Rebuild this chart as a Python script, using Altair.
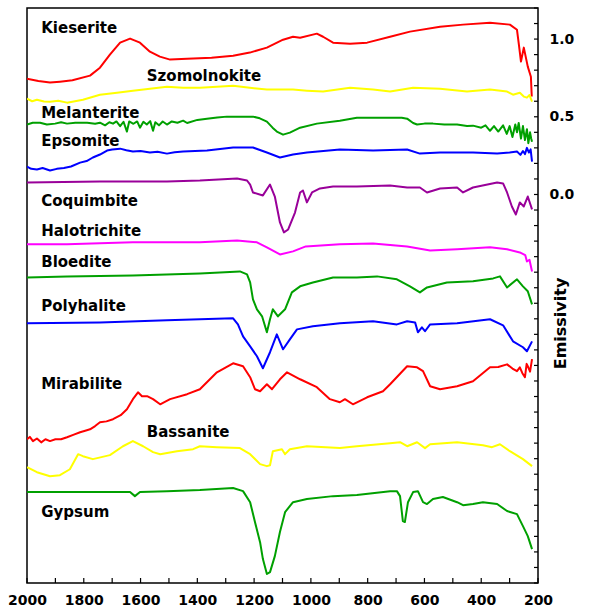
import altair as alt
import pandas as pd

# ---- spectra: wavenumber (cm-1) and plotted emissivity (offset) ----
KIE_WN = [2000, 1960, 1919, 1884, 1840, 1778, 1743, 1708, 1672, 1637, 1602, 1567, 1532, 1496, 1436, 1350, 1274, 1215, 1155, 1098, 1063, 1038, 979, 957, 922, 862, 802, 721, 651, 545, 464, 369, 299, 274, 267, 260, 250, 236, 225, 222]
KIE_V = [0.745, 0.73, 0.72, 0.726, 0.735, 0.765, 0.816, 0.900, 0.977, 1.003, 0.977, 0.919, 0.887, 0.868, 0.874, 0.880, 0.893, 0.913, 0.945, 0.996, 1.015, 1.009, 1.035, 1.015, 0.977, 0.970, 0.977, 1.015, 1.048, 1.080, 1.093, 1.105, 1.093, 1.06, 0.96, 0.855, 0.945, 0.823, 0.758, 0.63]

SZO_WN = [2000, 1982, 1965, 1940, 1919, 1890, 1859, 1803, 1743, 1683, 1627, 1567, 1507, 1450, 1391, 1331, 1274, 1215, 1155, 1063, 1014, 957, 862, 781, 721, 640, 545, 450, 369, 309, 288, 264, 250, 239, 230, 221]
SZO_V = [0.617, 0.60, 0.610, 0.598, 0.597, 0.603, 0.591, 0.610, 0.642, 0.655, 0.668, 0.681, 0.694, 0.687, 0.687, 0.694, 0.700, 0.687, 0.675, 0.675, 0.668, 0.662, 0.687, 0.675, 0.662, 0.687, 0.681, 0.662, 0.675, 0.662, 0.642, 0.655, 0.63, 0.623, 0.64, 0.597]

MEL_WN = [2000, 1980, 1954, 1930, 1901, 1880, 1859, 1830, 1788, 1760, 1743, 1725, 1710, 1697, 1685, 1672, 1660, 1648, 1640, 1625, 1612, 1602, 1590, 1578, 1566, 1556, 1548, 1535, 1522, 1507, 1490, 1470, 1450, 1436, 1400, 1366, 1330, 1296, 1250, 1204, 1180, 1155, 1135, 1120, 1098, 1074, 1038, 979, 898, 838, 746, 680, 661, 640, 626, 600, 570, 530, 485, 450, 429, 400, 385, 369, 355, 340, 323, 310, 300, 290, 280, 274, 268, 260, 253, 246, 239, 234, 228, 224, 221]
MEL_V = [0.450, 0.462, 0.462, 0.450, 0.456, 0.465, 0.456, 0.462, 0.462, 0.455, 0.462, 0.445, 0.465, 0.456, 0.47, 0.44, 0.468, 0.405, 0.47, 0.455, 0.47, 0.43, 0.468, 0.45, 0.472, 0.41, 0.465, 0.445, 0.47, 0.45, 0.47, 0.462, 0.475, 0.46, 0.48, 0.488, 0.495, 0.501, 0.501, 0.501, 0.49, 0.469, 0.43, 0.405, 0.385, 0.398, 0.430, 0.456, 0.475, 0.494, 0.494, 0.494, 0.488, 0.46, 0.450, 0.456, 0.456, 0.45, 0.450, 0.44, 0.443, 0.43, 0.445, 0.41, 0.44, 0.405, 0.445, 0.39, 0.44, 0.37, 0.45, 0.40, 0.46, 0.36, 0.44, 0.35, 0.42, 0.33, 0.40, 0.36, 0.34]

EPS_WN = [2000, 1985, 1965, 1945, 1919, 1895, 1870, 1845, 1813, 1790, 1768, 1743, 1718, 1700, 1672, 1650, 1627, 1600, 1567, 1540, 1507, 1480, 1450, 1366, 1274, 1204, 1155, 1109, 1063, 1014, 898, 781, 661, 616, 545, 429, 344, 300, 274, 262, 253, 246, 239, 232, 226, 221]
EPS_V = [0.180, 0.165, 0.161, 0.17, 0.154, 0.165, 0.17, 0.18, 0.205, 0.215, 0.238, 0.257, 0.283, 0.29, 0.295, 0.285, 0.276, 0.28, 0.270, 0.275, 0.263, 0.272, 0.276, 0.283, 0.302, 0.302, 0.270, 0.238, 0.257, 0.270, 0.289, 0.283, 0.289, 0.263, 0.270, 0.270, 0.263, 0.27, 0.276, 0.255, 0.28, 0.26, 0.30, 0.27, 0.29, 0.212]

COQ_WN = [2000, 1743, 1507, 1391, 1260, 1225, 1214, 1204, 1169, 1144, 1127, 1109, 1095, 1080, 1056, 1038, 1028, 1014, 996, 968, 922, 838, 721, 661, 616, 591, 545, 485, 464, 429, 344, 323, 309, 292, 278, 264, 250, 236, 221]
COQ_V = [0.077, 0.084, 0.084, 0.090, 0.103, 0.090, 0.064, 0.013, -0.006, 0.064, -0.013, -0.180, -0.244, -0.225, -0.116, 0.013, 0.026, -0.051, 0.013, 0.039, 0.051, 0.051, 0.058, 0.045, 0.045, 0.013, 0.039, 0.045, 0.013, 0.045, 0.077, 0.071, 0.013, -0.077, -0.129, -0.051, -0.077, -0.013, -0.096]

HAL_WN = [2000, 1859, 1627, 1391, 1260, 1190, 1155, 1109, 1063, 1018, 898, 781, 661, 580, 485, 369, 309, 264, 245, 239, 230, 221]
HAL_V = [-0.321, -0.321, -0.308, -0.308, -0.296, -0.308, -0.340, -0.386, -0.366, -0.334, -0.321, -0.315, -0.334, -0.360, -0.353, -0.340, -0.353, -0.373, -0.39, -0.431, -0.42, -0.495]

BLO_WN = [2000, 1859, 1627, 1391, 1250, 1225, 1214, 1204, 1190, 1172, 1155, 1144, 1134, 1116, 1091, 1067, 1038, 993, 922, 838, 767, 697, 651, 616, 591, 521, 429, 358, 334, 309, 274, 253, 236, 221]
BLO_V = [-0.534, -0.527, -0.521, -0.508, -0.495, -0.514, -0.566, -0.675, -0.739, -0.784, -0.887, -0.803, -0.739, -0.784, -0.739, -0.630, -0.591, -0.566, -0.534, -0.534, -0.527, -0.546, -0.591, -0.630, -0.598, -0.566, -0.559, -0.540, -0.527, -0.598, -0.546, -0.591, -0.623, -0.707]

POL_WN = [2000, 1743, 1507, 1274, 1257, 1239, 1214, 1190, 1169, 1144, 1120, 1098, 1074, 1049, 993, 898, 781, 697, 661, 633, 623, 609, 598, 580, 485, 369, 323, 288, 253, 239, 221]
POL_V = [-0.829, -0.823, -0.810, -0.797, -0.836, -0.913, -0.977, -1.041, -1.118, -1.015, -0.900, -0.996, -0.932, -0.868, -0.848, -0.829, -0.816, -0.836, -0.816, -0.823, -0.887, -0.855, -0.880, -0.836, -0.829, -0.803, -0.842, -0.945, -0.983, -1.009, -0.945]

MIR_WN = [2000, 1990, 1979, 1965, 1950, 1935, 1919, 1900, 1880, 1859, 1835, 1813, 1795, 1778, 1760, 1743, 1720, 1697, 1670, 1648, 1627, 1609, 1595, 1577, 1556, 1531, 1496, 1436, 1391, 1331, 1274, 1239, 1214, 1197, 1179, 1155, 1137, 1109, 1084, 1038, 979, 933, 898, 880, 852, 802, 746, 721, 661, 626, 605, 580, 545, 485, 429, 369, 340, 309, 290, 274, 264, 255, 246, 240, 236, 228, 221]
MIR_V = [-1.575, -1.56, -1.587, -1.57, -1.595, -1.575, -1.587, -1.575, -1.575, -1.562, -1.545, -1.530, -1.52, -1.511, -1.49, -1.466, -1.46, -1.446, -1.42, -1.382, -1.317, -1.273, -1.298, -1.298, -1.317, -1.350, -1.317, -1.285, -1.253, -1.144, -1.086, -1.105, -1.176, -1.253, -1.266, -1.221, -1.253, -1.189, -1.144, -1.189, -1.240, -1.317, -1.337, -1.317, -1.350, -1.305, -1.266, -1.221, -1.105, -1.112, -1.137, -1.234, -1.253, -1.234, -1.202, -1.112, -1.11, -1.093, -1.12, -1.137, -1.112, -1.15, -1.176, -1.09, -1.105, -1.14, -1.060]

BAS_WN = [2000, 1965, 1919, 1884, 1849, 1820, 1803, 1768, 1708, 1662, 1627, 1591, 1556, 1531, 1472, 1415, 1391, 1331, 1250, 1214, 1179, 1155, 1144, 1134, 1102, 1091, 1074, 1014, 898, 838, 721, 686, 661, 626, 598, 580, 485, 394, 362, 334, 299, 253, 221]
BAS_V = [-1.755, -1.787, -1.813, -1.806, -1.768, -1.671, -1.684, -1.703, -1.677, -1.620, -1.587, -1.620, -1.658, -1.671, -1.652, -1.639, -1.620, -1.626, -1.632, -1.671, -1.735, -1.748, -1.742, -1.652, -1.639, -1.671, -1.639, -1.620, -1.632, -1.620, -1.601, -1.594, -1.620, -1.594, -1.632, -1.607, -1.594, -1.613, -1.626, -1.607, -1.652, -1.703, -1.748]

GYP_WN = [2000, 1859, 1637, 1620, 1602, 1507, 1391, 1274, 1239, 1214, 1197, 1179, 1169, 1155, 1144, 1127, 1109, 1091, 1063, 1014, 922, 838, 721, 697, 686, 676, 669, 658, 640, 623, 605, 591, 570, 535, 485, 464, 429, 394, 344, 309, 274, 253, 236, 221]
GYP_V = [-1.915, -1.915, -1.915, -1.941, -1.915, -1.909, -1.902, -1.889, -1.909, -1.980, -2.108, -2.237, -2.346, -2.442, -2.430, -2.327, -2.172, -2.044, -1.980, -1.960, -1.941, -1.934, -1.909, -1.909, -1.941, -2.102, -2.108, -1.980, -1.915, -1.909, -1.980, -1.992, -1.960, -1.947, -1.980, -1.999, -1.992, -1.980, -1.992, -2.037, -2.057, -2.134, -2.198, -2.282]

NAMES = ["Kieserite", "Szomolnokite", "Melanterite", "Epsomite", "Coquimbite",
         "Halotrichite", "Bloedite", "Polyhalite", "Mirabilite", "Bassanite", "Gypsum"]
COLORS = ["#FF0000", "#FFFF00", "#00A000", "#0000FF", "#990099",
          "#FF00FF", "#00A000", "#0000FF", "#FF0000", "#FFFF00", "#00A000"]
SERIES = [(KIE_WN, KIE_V), (SZO_WN, SZO_V), (MEL_WN, MEL_V), (EPS_WN, EPS_V),
          (COQ_WN, COQ_V), (HAL_WN, HAL_V), (BLO_WN, BLO_V), (POL_WN, POL_V),
          (MIR_WN, MIR_V), (BAS_WN, BAS_V), (GYP_WN, GYP_V)]

# label anchor (wavenumber, emissivity of text baseline)
LBL_WN = [1950, 1578, 1950, 1950, 1950, 1950, 1950, 1950, 1950, 1578, 1950]
LBL_V = [1.041, 0.733, 0.495, 0.315, -0.071, -0.264, -0.469, -0.752, -1.253, -1.562, -2.076]

X_TICKS = list(range(200, 2001, 100))
X_LABELS = list(range(200, 2001, 200))
Y_TICKS = [round(-2.5 + 0.1 * i, 1) for i in range(38)]
Y_LABELS = [0.0, 0.5, 1.0]

FONT = "DejaVu Sans"
W, H = 511, 575

rows = []
for name, (wn, v) in zip(NAMES, SERIES):
    for a, b in zip(wn, v):
        rows.append({"name": name, "wn": a, "v": b})
df = pd.DataFrame(rows)
lbl = pd.DataFrame({"name": NAMES, "wn": LBL_WN, "v": LBL_V})
xt = pd.DataFrame({"wn": X_TICKS})
yt = pd.DataFrame({"v": Y_TICKS})

xscale = alt.Scale(domain=[200, 2000], reverse=True, nice=False, zero=False)
yscale = alt.Scale(domain=[-2.5, 1.2], nice=False, zero=False)

xaxis = alt.Axis(values=X_LABELS, format="d", title="", ticks=False, domain=False,
                 grid=False, labelFont=FONT, labelFontWeight="bold", labelFontSize=14,
                 labelColor="black", labelPadding=10, labelFlush=False,
                 labelOverlap=False)
yaxis = alt.Axis(orient="right", values=Y_LABELS, format=".1f", ticks=False,
                 domain=False, grid=False, labelFont=FONT, labelFontWeight="bold",
                 labelFontSize=14, labelColor="black", labelPadding=11,
                 title="Emissivity", titleFont=FONT, titleFontWeight="bold",
                 titleFontSize=16, titleColor="black", titleAngle=270,
                 titleX=22, titleY=315, titleAlign="center",
                 titleBaseline="middle")

X = alt.X("wn:Q", scale=xscale, axis=xaxis, title="")
Y = alt.Y("v:Q", scale=yscale, axis=yaxis, title="Emissivity")

lines = alt.Chart(df).mark_line(strokeWidth=2, strokeJoin="round", clip=True).encode(
    x=X, y=Y,
    color=alt.Color("name:N", scale=alt.Scale(domain=NAMES, range=COLORS), legend=None),
    detail="name:N",
)

labels = alt.Chart(lbl).mark_text(align="left", baseline="alphabetic", font=FONT,
                                  fontWeight="bold", fontSize=15, color="black").encode(
    x=X, y=Y, text="name:N",
)

xticks = alt.Chart(xt).mark_rule(color="black", strokeWidth=1.2).encode(
    x=X,
    y=alt.value(H - 5),
    y2=alt.value(H),
)

yticks = alt.Chart(yt).mark_rule(color="black", strokeWidth=1.2).encode(
    y=Y,
    x=alt.value(W - 4),
    x2=alt.value(W),
)

chart = alt.layer(lines, labels, xticks, yticks).properties(
    width=W, height=H,
    autosize=alt.AutoSizeParams(type="none"),
    padding={"left": 27, "top": 8, "right": 57, "bottom": 29},
    background="white",
).configure_view(stroke="black", strokeWidth=1.5)

chart.save("out.html", embed_options={"renderer": "svg", "actions": False})
